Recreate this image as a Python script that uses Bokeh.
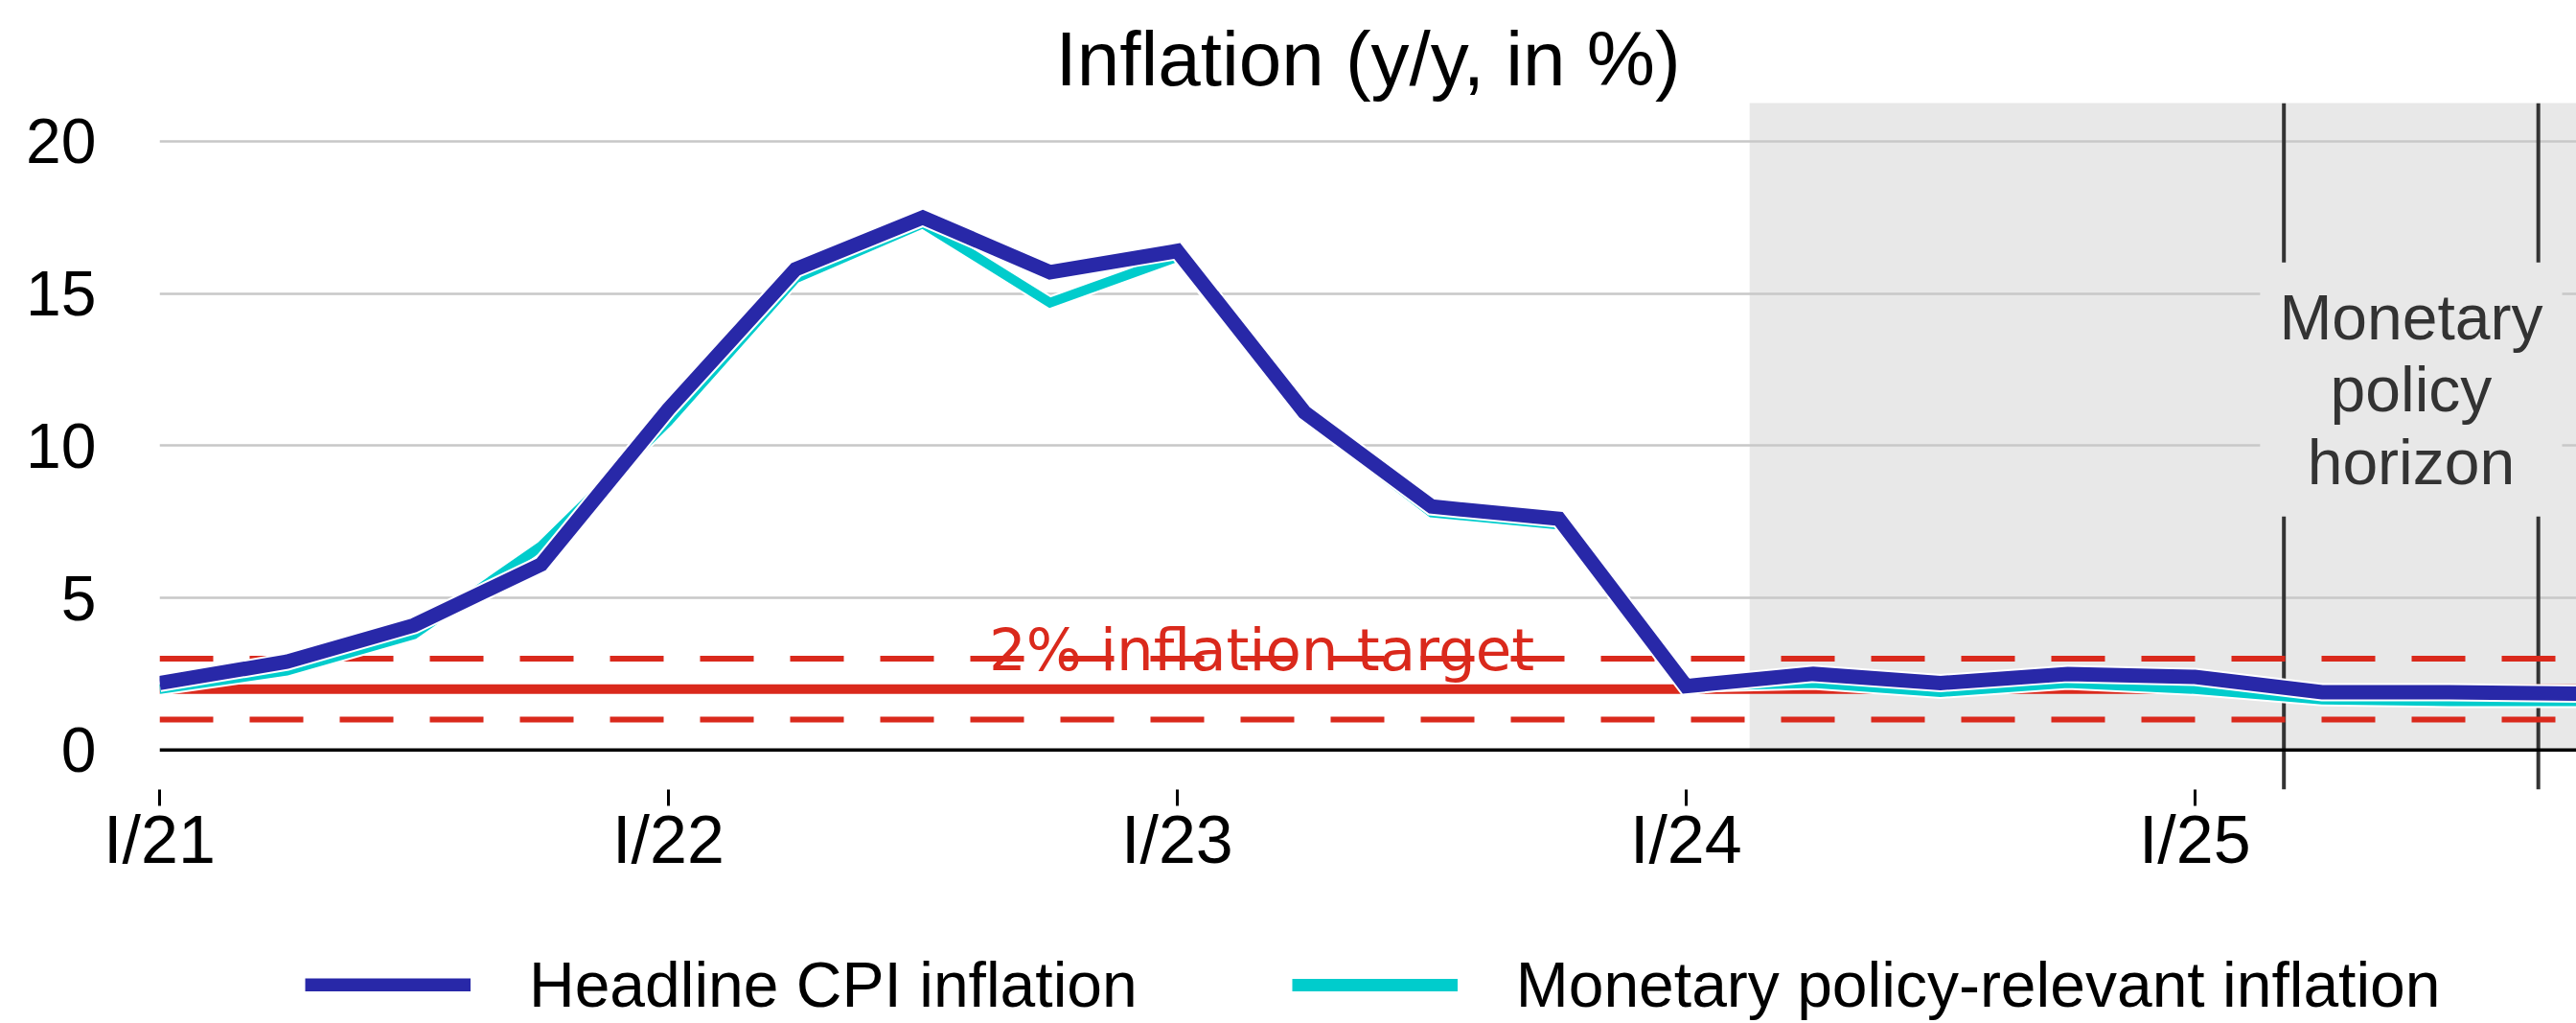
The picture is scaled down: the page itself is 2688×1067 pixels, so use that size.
from bokeh.plotting import figure
from bokeh.layouts import column
from bokeh.models import (Range1d, FixedTicker, Label, Legend, LegendItem, Span,
                          ColumnDataSource)
from bokeh.embed import file_html
from bokeh.resources import INLINE

# ---------------- data ----------------
quarters = ["I/21", "II/21", "III/21", "IV/21",
            "I/22", "II/22", "III/22", "IV/22",
            "I/23", "II/23", "III/23", "IV/23",
            "I/24", "II/24", "III/24", "IV/24",
            "I/25", "II/25", "III/25", "IV/25"]
headline = [2.2, 2.9, 4.1, 6.1,
            11.2, 15.8, 17.5, 15.7,
            16.4, 11.1, 8.0, 7.6,
            2.1, 2.5, 2.2, 2.5,
            2.4, 1.9, 1.9, 1.85]
mp_relevant = [2.0, 2.6, 3.8, 6.7,
               10.8, 15.5, 17.3, 14.7,
               16.2, 11.0, 7.8, 7.4,
               2.1, 2.2, 1.9, 2.2,
               2.0, 1.65, 1.6, 1.6]
tick_labels = ["I/21", "I/22", "I/23", "I/24", "I/25"]
y_ticks = [0, 5, 10, 15, 20]
target = 2.0
tolerance_band = [1.0, 3.0]

# annotation positions (quarter-index units)
forecast_start = 12.5
horizon_bounds = [16.7, 18.7]

# ---------------- style ----------------
FONT = "Liberation Sans"
BLUE = "#2828a8"
CYAN = "#00cccc"
RED = "#da291c"
SHADE = "#e8e8e8"
GRID = "#c8c8c8"
W = 2688
H_MAIN = 940
H_LEG = 127
Y_MIN, Y_MAX = -1.3, 21.26

x = list(range(len(quarters)))
src = ColumnDataSource(dict(x=x, headline=headline, mp=mp_relevant))

p = figure(width=W, height=H_MAIN, output_backend="svg", toolbar_location=None,
           x_range=Range1d(x[0], x[-1]), y_range=Range1d(Y_MIN, Y_MAX),
           min_border_left=166, min_border_right=0, min_border_top=107,
           min_border_bottom=117)
p.outline_line_color = None
p.background_fill_color = "white"
p.border_fill_color = "white"

# title
p.title.text = "Inflation (y/y, in %)"
p.title.align = "center"
p.title.text_font = FONT
p.title.text_font_size = "80px"
p.title.text_font_style = "normal"
p.title.text_color = "black"
p.title.standoff = 4

# forecast shading
p.quad(left=[forecast_start], right=[x[-1] + 1], bottom=[0], top=[Y_MAX + 1],
       fill_color=SHADE, line_color=None, level="image")

# monetary policy horizon lines
p.segment(x0=horizon_bounds, x1=horizon_bounds, y0=[Y_MIN] * 2, y1=[Y_MAX] * 2,
          line_color="#333333", line_width=4)

# inflation target and tolerance band
for lvl in tolerance_band:
    p.line(x=[x[0], x[-1]], y=[lvl, lvl], line_color=RED, line_width=6,
           line_dash="56 38")
p.line(x=[x[0], x[-1]], y=[target, target], line_color=RED, line_width=10)

# series (white casing under each line)
p.line("x", "mp", source=src, line_color="white", line_width=14,
       line_join="miter")
p.line("x", "mp", source=src, line_color=CYAN, line_width=10,
       line_join="miter")
p.line("x", "headline", source=src, line_color="white", line_width=19,
       line_join="miter")
p.line("x", "headline", source=src, line_color=BLUE, line_width=15,
       line_join="miter")

# zero line
p.add_layout(Span(location=0, dimension="width", line_color="black",
                  line_width=3.5))

# annotations
p.add_layout(Label(x=6.52, y=3.3, text="2% inflation target",
                   text_font="DejaVu Sans", text_font_size="61px",
                   text_color=RED, text_align="left",
                   text_baseline="alphabetic"))
p.add_layout(Label(x=sum(horizon_bounds) / 2, y=11.85,
                   text="Monetary\npolicy\nhorizon",
                   text_font=FONT, text_font_size="66px", text_color="#333333",
                   text_align="center", text_baseline="middle",
                   text_line_height=1.02,
                   background_fill_color=SHADE, background_fill_alpha=1.0,
                   padding=20))

# axes
tick_pos = [quarters.index(t) for t in tick_labels]
xa = p.xaxis[0]
xa.ticker = FixedTicker(ticks=tick_pos)
xa.major_label_overrides = {pos: lab for pos, lab in zip(tick_pos, tick_labels)}
xa.axis_line_color = None
xa.major_tick_out = 17
xa.major_tick_in = 0
xa.major_tick_line_width = 3
xa.major_tick_line_color = "black"
xa.minor_tick_line_color = None
xa.major_label_standoff = -4
xa.major_label_text_font = FONT
xa.major_label_text_font_size = "70px"
xa.major_label_text_color = "black"

ya = p.yaxis[0]
ya.ticker = FixedTicker(ticks=y_ticks)
ya.axis_line_color = None
ya.major_tick_line_color = None
ya.minor_tick_line_color = None
ya.major_label_standoff = 60
ya.major_label_text_font = FONT
ya.major_label_text_font_size = "66px"
ya.major_label_text_color = "black"

p.xgrid.visible = False
p.ygrid.ticker = FixedTicker(ticks=[t for t in y_ticks if t != 0])
p.ygrid.grid_line_color = GRID
p.ygrid.grid_line_width = 2.5

# ---------------- legend strip below the chart ----------------
leg = figure(width=W, height=H_LEG, output_backend="svg", toolbar_location=None,
             title=None, x_axis_location=None, y_axis_location=None,
             x_range=Range1d(x[0], x[-1]), y_range=Range1d(Y_MIN, Y_MAX),
             min_border=0)
leg.grid.visible = False
leg.outline_line_color = None
leg.background_fill_color = "white"
leg.border_fill_color = "white"

lb_case = leg.line("x", "headline", source=src, line_color="white",
                   line_width=18, visible=False)
lb = leg.line("x", "headline", source=src, line_color=BLUE, line_width=14,
              visible=False)
lc_case = leg.line("x", "mp", source=src, line_color="white", line_width=14,
                   visible=False)
lc = leg.line("x", "mp", source=src, line_color=CYAN, line_width=13,
              visible=False)

legend = Legend(items=[
    LegendItem(label="Headline CPI inflation", renderers=[lb_case, lb]),
    LegendItem(label="Monetary policy-relevant inflation", renderers=[lc_case, lc]),
], orientation="horizontal", location=(152, 2), glyph_width=173,
    glyph_height=14, label_standoff=61, spacing=161, padding=0, margin=0,
    border_line_color=None, background_fill_alpha=0,
    inactive_fill_alpha=0,
    label_text_font=FONT, label_text_font_size="66px", label_text_color="black")
leg.add_layout(legend)

layout = column(p, leg, spacing=0)
open("out.html", "w").write(file_html(layout, INLINE))
